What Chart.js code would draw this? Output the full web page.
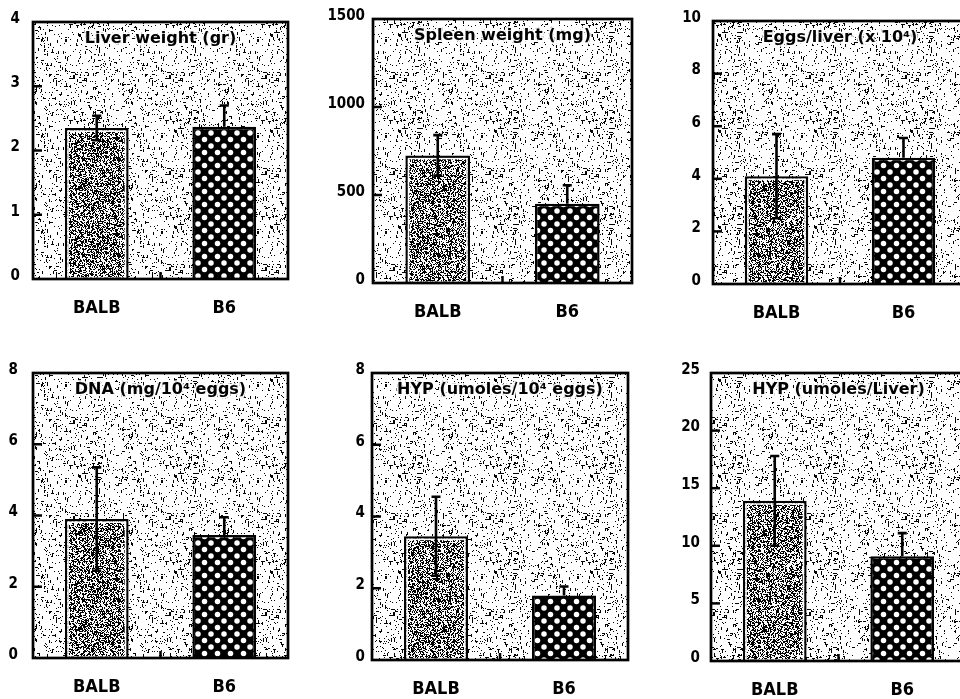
<!DOCTYPE html>
<html>
<head>
<meta charset="utf-8">
<script src="https://cdn.jsdelivr.net/npm/chart.js@4.4.0/dist/chart.umd.min.js"></script>
<style>
  html, body { margin: 0; padding: 0; background: #fff; width: 960px; height: 699px; overflow: hidden; position: relative; }
  canvas { position: absolute; }
</style>
</head>
<body>
<canvas id="c0"></canvas>
<canvas id="c1"></canvas>
<canvas id="c2"></canvas>
<canvas id="c3"></canvas>
<canvas id="c4"></canvas>
<canvas id="c5"></canvas>
<script>
// strains on the x axis
const strains = ["BALB", "B6"];

// mean and error (SD) per panel
const liverWeight = [2.35, 2.37];
const liverWeightErr = [0.19, 0.33];
const spleenWeight = [725, 450];
const spleenWeightErr = [115, 105];
const eggsPerLiver = [4.1, 4.8];
const eggsPerLiverErr = [1.6, 0.75];
const dnaPerEggs = [3.9, 3.45];
const dnaPerEggsErr = [1.45, 0.5];
const hypPerEggs = [3.45, 1.8];
const hypPerEggsErr = [1.1, 0.25];
const hypPerLiver = [13.9, 9.1];
const hypPerLiverErr = [3.9, 2.0];

const titles = ["Liver weight (gr)", "Spleen weight (mg)", "Eggs/liver (x 10⁴)",
                "DNA (mg/10⁴ eggs)", "HYP (umoles/10⁴ eggs)", "HYP (umoles/Liver)"];
const yMax = [4, 1500, 10, 8, 8, 25];
const yStep = [1, 500, 2, 2, 2, 5];

const means = [liverWeight, spleenWeight, eggsPerLiver, dnaPerEggs, hypPerEggs, hypPerLiver];
const errs = [liverWeightErr, spleenWeightErr, eggsPerLiverErr, dnaPerEggsErr, hypPerEggsErr, hypPerLiverErr];

// canvas box + plot frame in page pixels
const panels = [
  {x: 0,   y: 0,   w: 320, h: 345, L: 33,  T: 14,  R: 288, B: 279, pad: 13},
  {x: 320, y: 0,   w: 320, h: 345, L: 373, T: 19,  R: 632, B: 283, pad: 8},
  {x: 640, y: 0,   w: 340, h: 345, L: 713, T: 19,  R: 967, B: 284, pad: 12},
  {x: 0,   y: 345, w: 320, h: 354, L: 33,  T: 373, R: 288, B: 658, pad: 15},
  {x: 320, y: 345, w: 320, h: 354, L: 372, T: 373, R: 628, B: 660, pad: 7},
  {x: 640, y: 345, w: 340, h: 354, L: 711, T: 373, R: 966, B: 661, pad: 11}
];

const FONT = '"DejaVu Sans Condensed", "DejaVu Sans", "Liberation Sans", sans-serif';
const TITLE_FONT = '"DejaVu Sans", "Liberation Sans", sans-serif';

// deterministic speckle for the halftone look
function speck(i, j, s) {
  let h = (i * 374761393 + j * 668265263 + s * 982451653) | 0;
  h = Math.imul(h ^ (h >>> 13), 1274126177);
  return ((h ^ (h >>> 16)) >>> 0) / 4294967296;
}

function makePattern(size, draw) {
  const c = document.createElement("canvas");
  c.width = c.height = size;
  const g = c.getContext("2d");
  draw(g, size);
  return g.createPattern(c, "repeat");
}

const bgPattern = makePattern(96, (g, n) => {
  g.fillStyle = "#fff";
  g.fillRect(0, 0, n, n);
  g.fillStyle = "#000";
  for (let i = 0; i < n; i++) {
    for (let j = 0; j < n; j++) {
      const r = speck(i, j, 1);
      if (r < 0.055) g.fillRect(i, j, 1, 1);
      else if (r < 0.07 && j % 2 === 0) g.fillRect(i, j, 3, 1);
      else if (r < 0.078) g.fillRect(i, j, 1, 3);
    }
  }
});

const balbPattern = makePattern(96, (g, n) => {
  g.fillStyle = "#fff";
  g.fillRect(0, 0, n, n);
  g.fillStyle = "#000";
  for (let i = 0; i < n; i++) {
    for (let j = 0; j < n; j++) {
      if (speck(i, j, 7) < 0.5) g.fillRect(i, j, 1, 1);
    }
  }
});

const b6Pattern = makePattern(13, (g, n) => {
  g.fillStyle = "#000";
  g.fillRect(0, 0, n, n);
  g.fillStyle = "#fff";
  [[3, 3], [9.5, 9.5]].forEach(([cx, cy]) => {
    g.beginPath();
    g.arc(cx, cy, 2.75, 0, Math.PI * 2);
    g.fill();
  });
});

const decor = {
  id: "decor",
  beforeDraw(chart) {
    const a = chart.chartArea;
    const ctx = chart.ctx;
    ctx.save();
    ctx.fillStyle = bgPattern;
    ctx.fillRect(a.left, a.top, a.right - a.left, a.bottom - a.top);
    ctx.restore();
  },
  afterDatasetsDraw(chart, args, opts) {
    const a = chart.chartArea;
    const ctx = chart.ctx;
    const y = chart.scales.y;
    const bars = chart.getDatasetMeta(0).data;
    const vals = chart.data.datasets[0].data;
    ctx.save();

    // white inner rim on the BALB bar
    const b0 = bars[0];
    ctx.strokeStyle = "#fff";
    ctx.lineWidth = 1.5;
    ctx.strokeRect(b0.x - b0.width / 2 + 3.2, b0.y + 3.2, b0.width - 6.4, a.bottom - b0.y - 4);

    // error bars
    ctx.strokeStyle = "#000";
    ctx.lineWidth = 2.6;
    bars.forEach((bar, i) => {
      const top = y.getPixelForValue(vals[i] + opts.errs[i]);
      const low = opts.lowerShown[i] ? y.getPixelForValue(vals[i] - opts.errs[i]) : bar.y;
      ctx.beginPath();
      ctx.moveTo(bar.x, low);
      ctx.lineTo(bar.x, top);
      ctx.moveTo(bar.x - 4.5, top);
      ctx.lineTo(bar.x + 4.5, top);
      if (opts.lowerShown[i]) {
        ctx.moveTo(bar.x - 4.5, low);
        ctx.lineTo(bar.x + 4.5, low);
      }
      ctx.stroke();
    });

    // inward ticks on the y axis
    ctx.lineWidth = 2.5;
    y.ticks.forEach(t => {
      if (t.value <= y.min || t.value >= y.max) return;
      const py = y.getPixelForValue(t.value);
      ctx.beginPath();
      ctx.moveTo(a.left, py);
      ctx.lineTo(a.left + 9, py);
      ctx.stroke();
    });
    // small tick between the two bars
    const mx = (bars[0].x + bars[1].x) / 2;
    ctx.beginPath();
    ctx.moveTo(mx, a.bottom);
    ctx.lineTo(mx, a.bottom - 7);
    ctx.stroke();

    // frame
    ctx.lineWidth = 2.7;
    ctx.strokeRect(a.left, a.top, a.right - a.left, a.bottom - a.top);

    // title inside the frame
    ctx.font = "bold 16px " + TITLE_FONT;
    ctx.textAlign = "center";
    ctx.textBaseline = "middle";
    const tx = (a.left + a.right) / 2;
    const ty = a.top + 17;
    ctx.lineWidth = 4;
    ctx.strokeStyle = "rgba(255,255,255,0.85)";
    ctx.strokeText(opts.title, tx, ty);
    ctx.fillStyle = "#000";
    ctx.fillText(opts.title, tx, ty);
    ctx.restore();
  }
};

panels.forEach((p, k) => {
  const cv = document.getElementById("c" + k);
  cv.width = p.w;
  cv.height = p.h;
  cv.style.left = p.x + "px";
  cv.style.top = p.y + "px";
  cv.style.width = p.w + "px";
  cv.style.height = p.h + "px";

  new Chart(cv.getContext("2d"), {
    type: "bar",
    data: {
      labels: strains,
      datasets: [{
        data: means[k],
        backgroundColor: [balbPattern, b6Pattern],
        borderColor: "#000",
        borderWidth: 2.5,
        borderSkipped: "start",
        barPercentage: 0.5,
        categoryPercentage: 1.0
      }]
    },
    options: {
      responsive: false,
      animation: false,
      devicePixelRatio: 1,
      layout: {padding: {top: p.T - p.y, right: p.x + p.w - p.R, left: 0, bottom: 0}},
      plugins: {
        legend: {display: false},
        tooltip: {enabled: false},
        decor: {errs: errs[k], title: titles[k], lowerShown: [true, false]}
      },
      scales: {
        x: {
          grid: {display: false, drawTicks: false},
          border: {display: false},
          ticks: {color: "#000", padding: 19, font: {family: FONT, size: 18, weight: "bold"}},
          afterFit: s => { s.height = p.y + p.h - p.B; }
        },
        y: {
          min: 0,
          max: yMax[k],
          grid: {display: false, drawTicks: false},
          border: {display: false},
          ticks: {
            stepSize: yStep[k],
            color: "#000",
            padding: p.pad,
            labelOffset: -3,
            font: {family: FONT, size: 15, weight: "bold"},
            callback: v => String(v)
          },
          afterFit: s => { s.width = p.L - p.x; }
        }
      }
    },
    plugins: [decor]
  });
});
</script>
</body>
</html>
